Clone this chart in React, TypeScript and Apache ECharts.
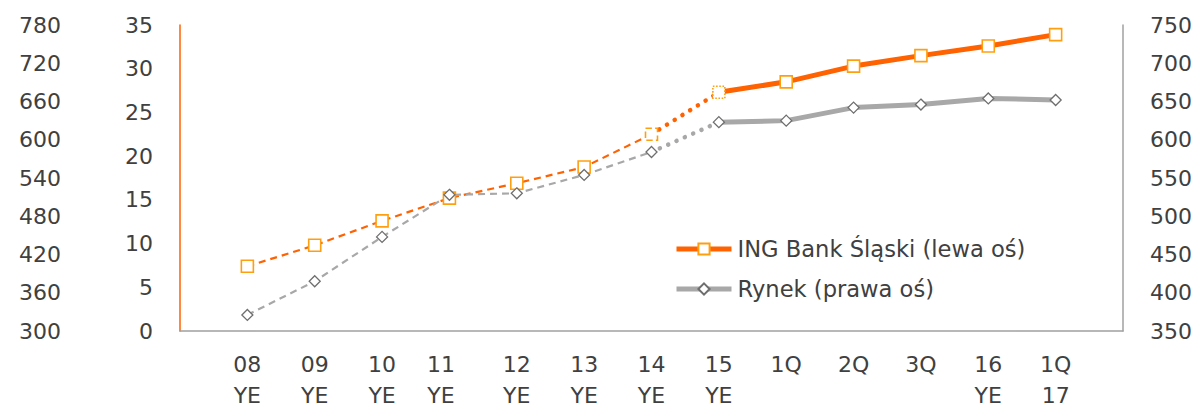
import React, { useEffect, useRef } from "react";
import * as echarts from "echarts";

const categories = ["08\nYE", "09\nYE", "10\nYE", "11\nYE", "12\nYE", "13\nYE", "14\nYE", "15\nYE", "1Q", "2Q", "3Q", "16\nYE", "1Q\n17"];
const ingValues = [7.4, 9.8, 12.6, 15.2, 16.9, 18.75, 22.5, 27.3, 28.5, 30.3, 31.5, 32.6, 33.9];
const marketValues = [371, 415, 473, 528, 530, 554, 584, 623, 625, 642, 646, 654, 652];
const ingName = "ING Bank Śląski (lewa oś)";
const marketName = "Rynek (prawa oś)";
const leftOuterTicks = [300, 780, 60];
const ingTicks = [0, 35, 5];
const marketTicks = [350, 750, 50];

const ORANGE = "#FF6200";
const ORANGE_MARK = "#FF9F10";
const GRAY = "#A8A8A8";
const GRAY_MARK = "#6E6E6E";
const TEXT = "#404040";
const FONT = "DejaVu Sans";

// pad with empty category on both ends
function seg(values: number[], from: number, to: number) {
  const out: (number | null)[] = [null];
  values.forEach((v, i) => out.push(i >= from && i <= to ? v : null));
  out.push(null);
  return out;
}

export default function App() {
  const ref = useRef<HTMLDivElement>(null);
  useEffect(() => {
    if (!ref.current) return;
    const chart = echarts.init(ref.current, undefined, { renderer: "svg" });
    const axisCats = [
      "",
      ...categories.map((c) => (c === "11\nYE" ? { value: c, textStyle: { padding: [0, 17, 0, 0] } } : c)),
      "",
    ];

    const withBorder = (arr: (number | null)[], idx: number, type: string) =>
      arr.map((v, i) => (i === idx + 1 && v != null ? { value: v, itemStyle: { borderType: type } } : v));

    const label = { fontSize: 22, color: TEXT, fontFamily: FONT, margin: 27 };

    chart.setOption({
      animation: false,
      grid: { left: 180, right: 74, top: 25, bottom: 78, containLabel: false },
      legend: {
        data: [
          { name: ingName, lineStyle: { width: 5, color: ORANGE } },
          { name: marketName, lineStyle: { width: 5, color: GRAY } },
        ],
        orient: "vertical",
        left: 674,
        top: 237,
        padding: 0,
        itemWidth: 55,
        itemHeight: 14,
        itemGap: 16,
        textStyle: { fontSize: 22.6, color: TEXT, fontFamily: FONT, lineHeight: 24, padding: [0, 0, 0, 1] },
      },
      xAxis: {
        type: "category",
        data: axisCats,
        boundaryGap: false,
        axisLine: { show: true, lineStyle: { color: "#A0A0A0", width: 1.5 } },
        axisTick: { show: false },
        axisLabel: { fontSize: 22, color: TEXT, fontFamily: FONT, lineHeight: 31, margin: 18, interval: 0 },
        splitLine: { show: false },
      },
      yAxis: [
        {
          type: "value",
          position: "left",
          min: ingTicks[0],
          max: ingTicks[1],
          interval: ingTicks[2],
          axisLine: { show: true, lineStyle: { color: ORANGE, width: 1.5 } },
          axisTick: { show: false },
          splitLine: { show: false },
          axisLabel: label,
        },
        {
          type: "value",
          position: "right",
          min: marketTicks[0],
          max: marketTicks[1],
          interval: marketTicks[2],
          axisLine: { show: true, lineStyle: { color: "#A0A0A0", width: 1.5 } },
          axisTick: { show: false },
          splitLine: { show: false },
          axisLabel: label,
        },
        {
          type: "value",
          position: "left",
          offset: 92,
          min: leftOuterTicks[0],
          max: leftOuterTicks[1],
          interval: leftOuterTicks[2],
          axisLine: { show: false },
          axisTick: { show: false },
          splitLine: { show: false },
          axisLabel: label,
        },
      ],
      series: [
        {
          name: "ing-dashed",
          type: "line",
          yAxisIndex: 0,
          data: withBorder(seg(ingValues, 0, 6), 6, "dashed"),
          symbol: "rect",
          symbolSize: 12,
          showSymbol: true,
          lineStyle: { color: ORANGE, width: 2.2, type: [7, 5] },
          itemStyle: { color: "#fff", borderColor: ORANGE_MARK, borderWidth: 1.6 },
          z: 3,
        },
        {
          name: "ing-dotted",
          type: "line",
          yAxisIndex: 0,
          data: seg(ingValues, 6, 7),
          showSymbol: false,
          symbol: "none",
          lineStyle: { color: ORANGE, width: 4.5, type: [0.1, 9], cap: "round" },
          z: 2,
        },
        {
          name: ingName,
          type: "line",
          yAxisIndex: 0,
          data: withBorder(seg(ingValues, 7, 12), 7, "dotted"),
          symbol: "rect",
          symbolSize: 12,
          lineStyle: { color: ORANGE, width: 5 },
          itemStyle: { color: "#fff", borderColor: ORANGE_MARK, borderWidth: 1.6 },
          z: 3,
        },
        {
          name: "mkt-dashed",
          type: "line",
          yAxisIndex: 1,
          data: seg(marketValues, 0, 6),
          symbol: "diamond",
          symbolSize: 11,
          lineStyle: { color: GRAY, width: 2.2, type: [7, 5] },
          itemStyle: { color: "#fff", borderColor: GRAY_MARK, borderWidth: 1.3 },
          z: 3,
        },
        {
          name: "mkt-dotted",
          type: "line",
          yAxisIndex: 1,
          data: seg(marketValues, 6, 7),
          showSymbol: false,
          symbol: "none",
          lineStyle: { color: GRAY, width: 4.5, type: [0.1, 9], cap: "round" },
          z: 2,
        },
        {
          name: marketName,
          type: "line",
          yAxisIndex: 1,
          data: seg(marketValues, 7, 12),
          symbol: "diamond",
          symbolSize: 11,
          lineStyle: { color: GRAY, width: 5 },
          itemStyle: { color: "#fff", borderColor: GRAY_MARK, borderWidth: 1.3 },
          z: 3,
        },
      ],
    });
    return () => chart.dispose();
  }, []);
  return <div ref={ref} style={{ position: "absolute", left: 0, top: 0, width: 1197, height: 411 }} />;
}
